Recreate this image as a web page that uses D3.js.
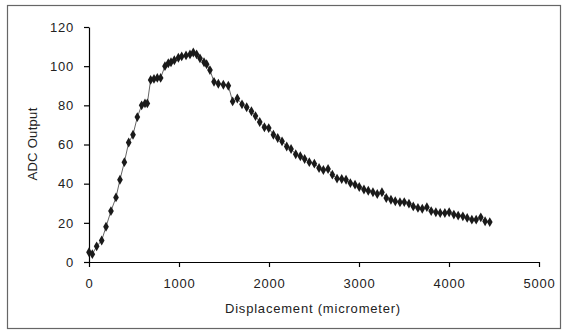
<!DOCTYPE html>
<html>
<head>
<meta charset="utf-8">
<script src="https://cdn.jsdelivr.net/npm/d3@7"></script>
<style>
  body { margin: 0; background: #fff; }
  text { font-family: "Liberation Sans", Arial, sans-serif; fill: #222; }
</style>
</head>
<body>
<div id="chart"></div>
<script>
// displacement readings (micrometer)
var displacement = [0, 37, 85, 141, 189, 244, 300, 344, 393, 441,
    489, 537, 585, 622, 648, 685, 722, 759, 796, 844,
    881, 911, 948, 993, 1030, 1078, 1122, 1159, 1196, 1233,
    1278, 1307, 1344, 1389, 1437, 1493, 1548, 1596, 1648, 1700,
    1752, 1805, 1850, 1897, 1949, 1997, 2049, 2097, 2145, 2197,
    2245, 2297, 2348, 2396, 2448, 2504, 2556, 2604, 2656, 2704,
    2756, 2808, 2856, 2904, 2956, 3003, 3055, 3103, 3155, 3203,
    3255, 3303, 3355, 3403, 3455, 3503, 3555, 3603, 3655, 3703,
    3754, 3802, 3854, 3902, 3954, 4002, 4054, 4102, 4154, 4202,
    4254, 4302, 4353, 4401, 4453];

// ADC output at each displacement
var adcOutput = [5, 4, 8, 11, 18, 26, 33, 42, 51, 61,
    65, 74, 80, 81, 81, 93, 93.5, 94, 94, 100,
    101.5, 102, 103, 104.3, 105, 105.5, 106, 107, 106, 104,
    102, 101, 98, 92, 91, 90.5, 90, 82, 83.5, 80.5,
    79, 77, 74.5, 71.5, 68.8, 68.4, 65, 63.3, 61.6, 59,
    57.7, 55, 54, 52.6, 51, 50.2, 48, 47, 47.5, 44.6,
    42.6, 42.4, 42, 40.3, 39.5, 38.3, 37, 36.4, 35.6, 34.7,
    35.6, 32.7, 31.8, 31, 30.5, 30.6, 29.8, 28.4, 27.6, 27.2,
    28, 26, 25.4, 25, 25, 25.4, 24.2, 23.7, 23.3, 22.5,
    21.6, 21.6, 22.8, 20.8, 20.4];

var xTicks = [0, 1000, 2000, 3000, 4000, 5000];
var yTicks = [0, 20, 40, 60, 80, 100, 120];

var svgWidth = 565;
var svgHeight = 331;
var margin = { top: 27, right: 26, bottom: 69, left: 89 };
var width = 539 - margin.left;
var height = 262 - margin.top;

var svg = d3.select('#chart')
    .append('svg')
    .attr('width', svgWidth)
    .attr('height', svgHeight);

// outer frame
svg.append('rect')
    .attr('x', 7.5)
    .attr('y', 5.5)
    .attr('width', 553)
    .attr('height', 323)
    .attr('fill', 'none')
    .attr('stroke', '#666')
    .attr('stroke-width', 1.2);

var chartGroup = svg.append('g')
    .attr('transform', `translate(${margin.left}, ${margin.top})`);

var points = displacement.map((d, i) => ({ x: d, y: adcOutput[i] }));

var xScale = d3.scaleLinear().domain([0, 5000]).range([0, width]);
var yScale = d3.scaleLinear().domain([0, 120]).range([height, 0]);

var xAxis = d3.axisBottom(xScale).tickValues(xTicks).tickFormat(d3.format('d'))
    .tickSizeInner(5).tickSizeOuter(0).tickPadding(12);
var yAxis = d3.axisLeft(yScale).tickValues(yTicks).tickFormat(d3.format('d'))
    .tickSizeInner(5).tickSizeOuter(0).tickPadding(10);

var gx = chartGroup.append('g')
    .attr('transform', `translate(0, ${height})`)
    .call(xAxis);
var gy = chartGroup.append('g').call(yAxis);

[gx, gy].forEach(g => {
    g.select('.domain').attr('stroke', '#000').attr('stroke-width', 1.2);
    g.selectAll('.tick line').attr('stroke', '#000').attr('stroke-width', 1.2);
    g.selectAll('.tick text')
        .style('font-size', '13px')
        .style('letter-spacing', '0.8px')
        .attr('fill', '#222');
});

// connecting line
var line = d3.line().x(d => xScale(d.x)).y(d => yScale(d.y));
chartGroup.append('path')
    .datum(points)
    .attr('d', line)
    .attr('fill', 'none')
    .attr('stroke', '#666')
    .attr('stroke-width', 1);

// diamond markers
chartGroup.selectAll('.marker')
    .data(points)
    .enter()
    .append('path')
    .attr('class', 'marker')
    .attr('d', d3.symbol().type(d3.symbolDiamond).size(28))
    .attr('transform', d => `translate(${xScale(d.x)}, ${yScale(d.y)})`)
    .attr('fill', '#1a1a1a');

// axis titles
svg.append('text')
    .attr('x', 313)
    .attr('y', 313)
    .attr('text-anchor', 'middle')
    .style('font-size', '13px')
    .style('letter-spacing', '0.8px')
    .text('Displacement (micrometer)');

svg.append('text')
    .attr('transform', 'translate(37, 144) rotate(-90)')
    .attr('text-anchor', 'middle')
    .style('font-size', '13px')
    .style('letter-spacing', '0.3px')
    .text('ADC Output');
</script>
</body>
</html>
